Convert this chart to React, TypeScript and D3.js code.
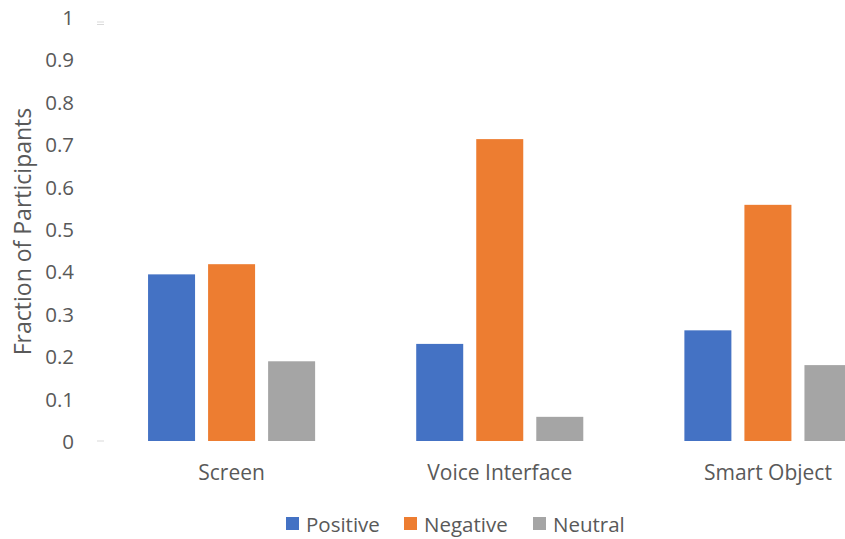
import React, { useEffect } from 'react';
import * as d3 from 'd3';

const categories = ['Screen', 'Voice Interface', 'Smart Object'];
const seriesNames = ['Positive', 'Negative', 'Neutral'];
const positive = [0.393, 0.229, 0.261];
const negative = [0.417, 0.712, 0.557];
const neutral = [0.188, 0.057, 0.179];
const yTicks = [0, 0.1, 0.2, 0.3, 0.4, 0.5, 0.6, 0.7, 0.8, 0.9, 1];

const colors = ['#4472C4', '#ED7D31', '#A5A5A5'];
const W = 845;
const H = 539;
const FONT = "'Open Sans', 'Noto Sans', sans-serif";

export default function App() {
    useEffect(() => {
        document.body.style.margin = '0';
    }, []);

    const values = [positive, negative, neutral];

    const x0 = d3.scaleBand<string>().domain(categories).range([97.5, 902]);
    const x1 = d3.scaleBand<string>()
        .domain(seriesNames)
        .range([0, x0.bandwidth()])
        .paddingInner(0.217)
        .paddingOuter(0.842);
    const y = d3.scaleLinear().domain([0, 1]).range([441, 17]);

    // legend layout
    const legendItems = [
        { name: 'Positive', x: 286 },
        { name: 'Negative', x: 404 },
        { name: 'Neutral', x: 533 },
    ];

    return (
        <svg width={W} height={H} style={{ display: 'block' }}>
            <rect width={W} height={H} fill="#fff" />
            {/* y axis labels */}
            {yTicks.map(t => (
                <text key={t} x={74} y={y(t)} textAnchor="end" dominantBaseline="central"
                    fontFamily={FONT} fontSize={20.5} fill="#595959">
                    {String(Math.round(t * 10) / 10)}
                </text>
            ))}
            <line x1={97} x2={104} y1={y(0)} y2={y(0)} stroke="#d9d9d9" strokeWidth={1} />
            <line x1={97} x2={104} y1={y(1) + 5} y2={y(1) + 5} stroke="#d9d9d9" strokeWidth={1} />
            <line x1={97} x2={104} y1={y(1) + 7.5} y2={y(1) + 7.5} stroke="#d9d9d9" strokeWidth={1} />
            <text transform={`translate(22,${(105 + 358) / 2}) rotate(-90)`} textAnchor="middle"
                dominantBaseline="central" fontFamily={FONT} fontSize={23} fill="#595959">
                Fraction of Participants
            </text>
            {/* bars */}
            {categories.map((c, ci) => (
                <g key={c} transform={`translate(${x0(c)},0)`}>
                    {seriesNames.map((s, si) => (
                        <rect key={s} x={x1(s)} y={y(values[si][ci])} width={x1.bandwidth()}
                            height={y(0) - y(values[si][ci])} fill={colors[si]} />
                    ))}
                    <text x={x0.bandwidth() / 2} y={472} textAnchor="middle" dominantBaseline="central"
                        fontFamily={FONT} fontSize={21} fill="#595959">{c}</text>
                </g>
            ))}
            {/* legend */}
            {legendItems.map((l, i) => (
                <g key={l.name}>
                    <rect x={l.x} y={517} width={13} height={13} fill={colors[i]} />
                    <text x={l.x + 20} y={524} dominantBaseline="central" fontFamily={FONT}
                        fontSize={20.5} fill="#595959">{l.name}</text>
                </g>
            ))}
        </svg>
    );
}
